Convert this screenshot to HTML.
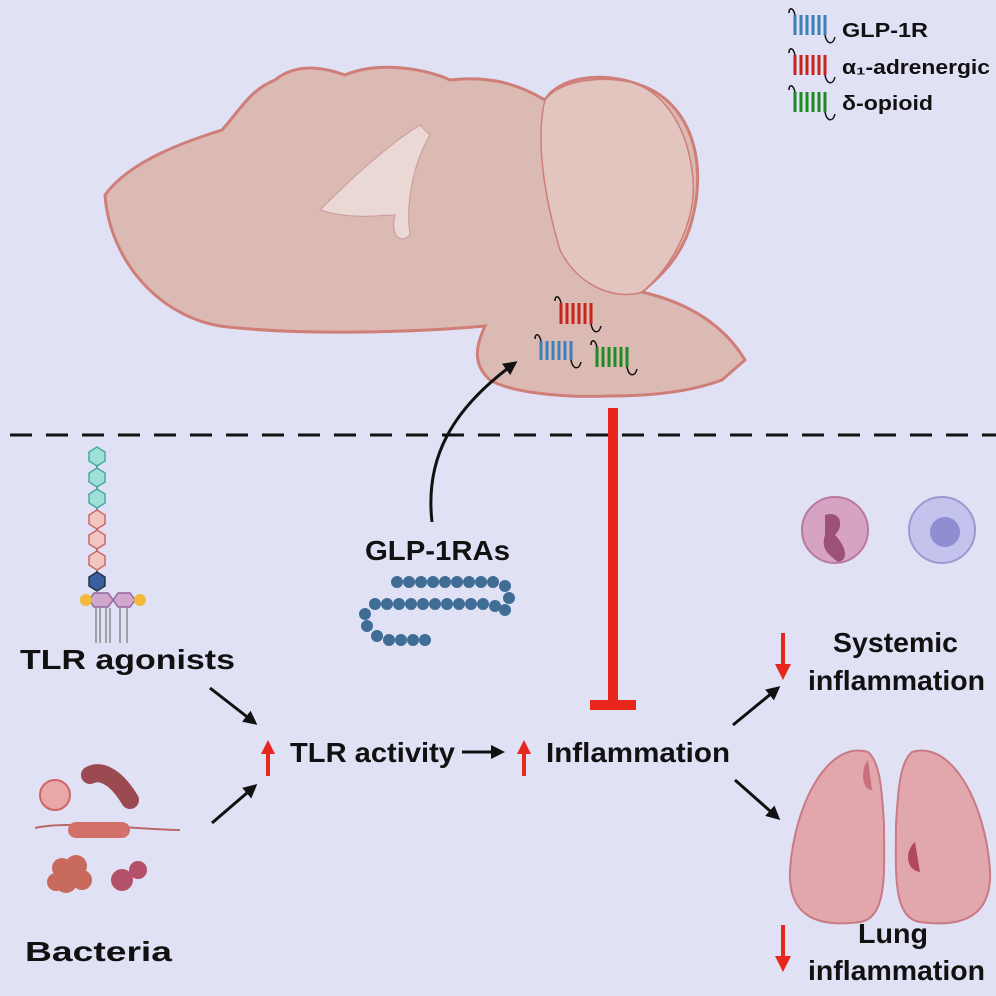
<!DOCTYPE html>
<html><head><meta charset="utf-8"><style>
html,body{margin:0;padding:0;background:#e0e1f4;}
svg{display:block}
text{font-family:"Liberation Sans",sans-serif;font-weight:bold;fill:#111}
</style></head><body>
<svg width="996" height="996" viewBox="0 0 996 996" xmlns="http://www.w3.org/2000/svg">
<defs>
<marker id="ah" markerWidth="14" markerHeight="14" refX="11" refY="7" orient="auto" markerUnits="userSpaceOnUse"><path d="M0,0 L14,7 L0,14 Z" fill="#111"/></marker>
<marker id="rh" markerWidth="14" markerHeight="14" refX="2" refY="7" orient="auto" markerUnits="userSpaceOnUse"><path d="M0,0 L14,7 L0,14 Z" fill="#e8261b"/></marker>
</defs>
<rect width="996" height="996" fill="#e0e1f4"/>
<!-- brain -->
<path d="M105,195 C130,160 190,140 222,130 C240,110 250,90 275,80 C300,60 330,70 345,75 C380,60 430,70 450,80 C490,75 520,85 545,100 C558,78 600,70 640,85 C690,102 708,160 692,220 C682,260 655,280 642,292 C685,302 722,322 745,360 L722,380 C690,392 650,396 610,396 C560,398 510,392 490,380 C470,362 478,342 485,326 C420,332 300,336 220,326 C160,316 110,262 105,195 Z" fill="#dcbab4" stroke="#cf7e78" stroke-width="3"/>
<path d="M545,100 C535,140 545,200 560,250 C580,290 620,300 642,292 C670,270 700,220 692,170 C685,120 660,90 630,82 C600,76 560,80 545,100Z" fill="#e3c5c0" stroke="#cf7e78" stroke-width="1.5"/>
<path d="M320,210 C340,190 380,150 420,125 L430,135 C415,160 405,200 410,235 C400,245 390,235 395,215 C380,215 350,220 320,210Z" fill="#ead8d4" stroke="#c99" stroke-width="1"/>
<!-- receptors in brain -->
<g stroke-width="3">
<g stroke="#c8241c"><line x1="561" y1="303" x2="561" y2="324"/><line x1="567" y1="303" x2="567" y2="324"/><line x1="573" y1="303" x2="573" y2="324"/><line x1="579" y1="303" x2="579" y2="324"/><line x1="585" y1="303" x2="585" y2="324"/><line x1="591" y1="303" x2="591" y2="324"/></g>
<g stroke="#3d7fb8"><line x1="541" y1="341" x2="541" y2="360"/><line x1="547" y1="341" x2="547" y2="360"/><line x1="553" y1="341" x2="553" y2="360"/><line x1="559" y1="341" x2="559" y2="360"/><line x1="565" y1="341" x2="565" y2="360"/><line x1="571" y1="341" x2="571" y2="360"/></g>
<g stroke="#1e8a22"><line x1="597" y1="347" x2="597" y2="367"/><line x1="603" y1="347" x2="603" y2="367"/><line x1="609" y1="347" x2="609" y2="367"/><line x1="615" y1="347" x2="615" y2="367"/><line x1="621" y1="347" x2="621" y2="367"/><line x1="627" y1="347" x2="627" y2="367"/></g>
</g>
<g stroke="#111" stroke-width="1.5" fill="none">
<path d="M561,303 c-2,-8 -6,-8 -6,-2"/><path d="M591,324 c2,10 8,10 10,2"/>
<path d="M541,341 c-2,-8 -6,-8 -6,-2"/><path d="M571,360 c2,10 8,10 10,2"/>
<path d="M597,347 c-2,-8 -6,-8 -6,-2"/><path d="M627,367 c2,10 8,10 10,2"/>
</g>
<!-- legend -->
<g stroke-width="3">
<g stroke="#3d7fb8"><line x1="795" y1="15" x2="795" y2="35"/><line x1="801" y1="15" x2="801" y2="35"/><line x1="807" y1="15" x2="807" y2="35"/><line x1="813" y1="15" x2="813" y2="35"/><line x1="819" y1="15" x2="819" y2="35"/><line x1="825" y1="15" x2="825" y2="35"/></g>
<g stroke="#c8241c"><line x1="795" y1="55" x2="795" y2="75"/><line x1="801" y1="55" x2="801" y2="75"/><line x1="807" y1="55" x2="807" y2="75"/><line x1="813" y1="55" x2="813" y2="75"/><line x1="819" y1="55" x2="819" y2="75"/><line x1="825" y1="55" x2="825" y2="75"/></g>
<g stroke="#1e8a22"><line x1="795" y1="92" x2="795" y2="112"/><line x1="801" y1="92" x2="801" y2="112"/><line x1="807" y1="92" x2="807" y2="112"/><line x1="813" y1="92" x2="813" y2="112"/><line x1="819" y1="92" x2="819" y2="112"/><line x1="825" y1="92" x2="825" y2="112"/></g>
</g>
<g stroke="#111" stroke-width="1.5" fill="none">
<path d="M795,15 c-2,-8 -6,-8 -6,-2"/><path d="M825,35 c2,10 8,10 10,2"/>
<path d="M795,55 c-2,-8 -6,-8 -6,-2"/><path d="M825,75 c2,10 8,10 10,2"/>
<path d="M795,92 c-2,-8 -6,-8 -6,-2"/><path d="M825,112 c2,10 8,10 10,2"/>
</g>
<text x="842" y="37" font-size="20" textLength="86" lengthAdjust="spacingAndGlyphs">GLP-1R</text>
<text x="842" y="74" font-size="20" textLength="148" lengthAdjust="spacingAndGlyphs">α₁-adrenergic</text>
<text x="842" y="110" font-size="20" textLength="91" lengthAdjust="spacingAndGlyphs">δ-opioid</text>
<!-- dashed line -->
<line x1="10" y1="435" x2="996" y2="435" stroke="#111" stroke-width="3" stroke-dasharray="22,14"/>
<!-- TLR agonist molecule -->
<line x1="97" y1="455" x2="97" y2="585" stroke="#555" stroke-width="1.5"/>
<g stroke-width="1.5">
<polygon points="97,447 105,452 105,461 97,466 89,461 89,452" fill="#9ee0d6" stroke="#4aa"/>
<polygon points="97,468 105,473 105,482 97,487 89,482 89,473" fill="#9ee0d6" stroke="#4aa"/>
<polygon points="97,489 105,494 105,503 97,508 89,503 89,494" fill="#9ee0d6" stroke="#4aa"/>
<polygon points="97,510 105,515 105,524 97,529 89,524 89,515" fill="#f2c6c0" stroke="#c66"/>
<polygon points="97,530 105,535 105,544 97,549 89,544 89,535" fill="#f2c6c0" stroke="#c66"/>
<polygon points="97,551 105,556 105,565 97,570 89,565 89,556" fill="#f2c6c0" stroke="#c66"/>
<polygon points="97,572 105,577 105,586 97,591 89,586 89,577" fill="#3a5fa0" stroke="#234"/>
<polygon points="94,593 108,593 113,600 108,607 94,607 89,600" fill="#d0a8cc" stroke="#95659a"/>
<polygon points="118,593 130,593 135,600 130,607 118,607 113,600" fill="#d0a8cc" stroke="#95659a"/>
</g>
<circle cx="86" cy="600" r="6" fill="#f4b937"/><circle cx="140" cy="600" r="6" fill="#f4b937"/>
<g stroke="#777" stroke-width="1.2" fill="none">
<path d="M96,608 l0,35"/><path d="M100,608 l0,35"/><path d="M106,608 l0,35"/><path d="M110,608 l0,35"/><path d="M120,608 l0,35"/><path d="M127,608 l0,35"/>
</g>
<text x="20" y="669" font-size="28" textLength="215" lengthAdjust="spacingAndGlyphs">TLR agonists</text>
<!-- bacteria -->
<g>
<circle cx="55" cy="795" r="15" fill="#e9a8a8" stroke="#c66" stroke-width="2"/>
<path d="M90,775 C100,770 115,775 130,800" stroke="#9c4a52" stroke-width="18" stroke-linecap="round" fill="none"/>
<path d="M35,828 C70,820 140,830 180,830" stroke="#b96a66" stroke-width="2" fill="none"/>
<rect x="68" y="822" width="62" height="16" rx="8" fill="#d4706a"/>
<circle cx="62" cy="868" r="10" fill="#c86a5c"/><circle cx="76" cy="866" r="11" fill="#c86a5c"/><circle cx="66" cy="882" r="11" fill="#c86a5c"/><circle cx="82" cy="880" r="10" fill="#c86a5c"/><circle cx="56" cy="882" r="9" fill="#c86a5c"/>
<circle cx="122" cy="880" r="11" fill="#b4506a"/><circle cx="138" cy="870" r="9" fill="#b4506a"/>
</g>
<text x="25" y="961" font-size="28" textLength="147" lengthAdjust="spacingAndGlyphs">Bacteria</text>
<!-- arrows -->
<line x1="210" y1="688" x2="255" y2="723" stroke="#111" stroke-width="3" marker-end="url(#ah)"/>
<line x1="212" y1="823" x2="255" y2="786" stroke="#111" stroke-width="3" marker-end="url(#ah)"/>
<line x1="268" y1="776" x2="268" y2="752" stroke="#e8261b" stroke-width="4" marker-end="url(#rh)"/>
<text x="290" y="762" font-size="28" textLength="165" lengthAdjust="spacingAndGlyphs">TLR activity</text>
<line x1="462" y1="752" x2="502" y2="752" stroke="#111" stroke-width="3" marker-end="url(#ah)"/>
<line x1="524" y1="776" x2="524" y2="752" stroke="#e8261b" stroke-width="4" marker-end="url(#rh)"/>
<text x="546" y="762" font-size="28" textLength="184" lengthAdjust="spacingAndGlyphs">Inflammation</text>
<line x1="733" y1="725" x2="778" y2="688" stroke="#111" stroke-width="3" marker-end="url(#ah)"/>
<line x1="735" y1="780" x2="778" y2="818" stroke="#111" stroke-width="3" marker-end="url(#ah)"/>
<!-- inhibition -->
<line x1="613" y1="408" x2="613" y2="703" stroke="#e8261b" stroke-width="10"/>
<line x1="590" y1="705" x2="636" y2="705" stroke="#e8261b" stroke-width="10"/>
<!-- GLP-1RA curve -->
<path d="M432,522 C425,460 450,410 515,363" stroke="#111" stroke-width="3" fill="none" marker-end="url(#ah)"/>
<text x="365" y="560" font-size="28" textLength="145" lengthAdjust="spacingAndGlyphs">GLP-1RAs</text>
<g fill="#3f6d96">
<circle cx="397" cy="582" r="6"/><circle cx="409" cy="582" r="6"/><circle cx="421" cy="582" r="6"/><circle cx="433" cy="582" r="6"/><circle cx="445" cy="582" r="6"/><circle cx="457" cy="582" r="6"/><circle cx="469" cy="582" r="6"/><circle cx="481" cy="582" r="6"/><circle cx="493" cy="582" r="6"/><circle cx="505" cy="586" r="6"/><circle cx="509" cy="598" r="6"/>
<circle cx="375" cy="604" r="6"/><circle cx="387" cy="604" r="6"/><circle cx="399" cy="604" r="6"/><circle cx="411" cy="604" r="6"/><circle cx="423" cy="604" r="6"/><circle cx="435" cy="604" r="6"/><circle cx="447" cy="604" r="6"/><circle cx="459" cy="604" r="6"/><circle cx="471" cy="604" r="6"/><circle cx="483" cy="604" r="6"/><circle cx="495" cy="606" r="6"/><circle cx="505" cy="610" r="6"/>
<circle cx="365" cy="614" r="6"/><circle cx="367" cy="626" r="6"/><circle cx="377" cy="636" r="6"/><circle cx="389" cy="640" r="6"/><circle cx="401" cy="640" r="6"/><circle cx="413" cy="640" r="6"/><circle cx="425" cy="640" r="6"/>
</g>
<!-- cells -->
<circle cx="835" cy="530" r="33" fill="#d7a3c2" stroke="#b87aa0" stroke-width="2"/>
<path d="M825,515 C840,510 845,525 835,535 C845,545 850,560 838,562 C830,555 820,550 825,535Z" fill="#9c5178"/>
<circle cx="942" cy="530" r="33" fill="#c3c3ee" stroke="#9a9ad0" stroke-width="2"/>
<circle cx="945" cy="532" r="15" fill="#8e8ed0"/>
<line x1="783" y1="633" x2="783" y2="666" stroke="#e8261b" stroke-width="4"/><path d="M775,664 L791,664 L783,680Z" fill="#e8261b"/>
<text x="833" y="652" font-size="28" textLength="125" lengthAdjust="spacingAndGlyphs">Systemic</text>
<text x="808" y="690" font-size="28" textLength="177" lengthAdjust="spacingAndGlyphs">inflammation</text>
<!-- lungs -->
<path d="M868,752 C830,740 795,800 790,870 C788,915 815,928 860,922 C888,918 884,870 884,825 C882,790 880,762 868,752Z" fill="#e2a7ad" stroke="#c97a84" stroke-width="2"/>
<path d="M912,752 C950,740 985,800 990,870 C992,915 965,928 920,922 C892,918 896,870 896,825 C898,790 900,762 912,752Z" fill="#e2a7ad" stroke="#c97a84" stroke-width="2"/>
<path d="M915,842 C905,850 905,870 920,872 Z" fill="#b04a5a"/>
<path d="M868,760 C860,770 862,790 872,790 Z" fill="#c9707c"/>
<line x1="783" y1="925" x2="783" y2="958" stroke="#e8261b" stroke-width="4"/><path d="M775,956 L791,956 L783,972Z" fill="#e8261b"/>
<text x="858" y="943" font-size="28" textLength="70" lengthAdjust="spacingAndGlyphs">Lung</text>
<text x="808" y="980" font-size="28" textLength="177" lengthAdjust="spacingAndGlyphs">inflammation</text>
</svg>
</body></html>
